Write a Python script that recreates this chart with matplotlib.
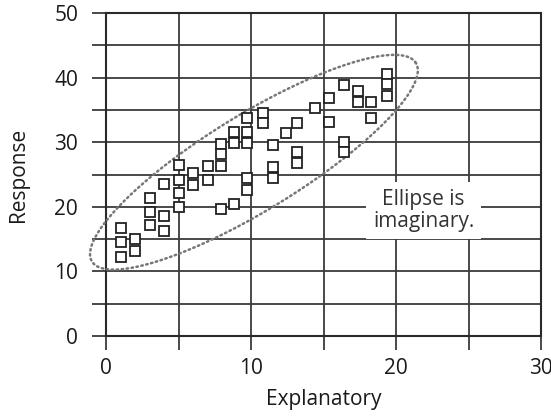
import numpy as np
import matplotlib
matplotlib.use("Agg")
import matplotlib.pyplot as plt

plt.rcParams['font.family'] = ['Open Sans', 'DejaVu Sans']

# Scatter data
explanatory = [1.0, 1.0, 1.0,
               2.0, 2.0,
               3.0, 3.0, 3.0,
               4.0, 4.0, 4.0,
               5.0, 5.0, 5.0, 5.0,
               6.0, 6.0,
               7.0, 7.0,
               7.9, 7.9, 7.9, 7.9,
               8.8, 8.8, 8.8,
               9.7, 9.7, 9.7, 9.7, 9.7,
               10.8, 10.8,
               11.5, 11.5, 11.5,
               12.4,
               13.2, 13.2, 13.2,
               14.4,
               15.4, 15.4,
               16.4, 16.4, 16.4,
               17.4, 17.4,
               18.3, 18.3,
               19.4, 19.4, 19.4]
response = [16.7, 14.5, 12.3,
            15.0, 13.2,
            21.4, 19.2, 17.2,
            23.5, 18.6, 16.3,
            26.5, 24.1, 22.1, 20.0,
            25.2, 23.4,
            26.3, 24.1,
            29.7, 28.2, 26.3, 19.7,
            31.6, 29.9, 20.4,
            33.7, 31.6, 29.9, 24.5, 22.6,
            34.5, 33.0,
            29.6, 26.2, 24.5,
            31.4,
            33.0, 28.5, 26.8,
            35.3,
            36.8, 33.1,
            38.9, 30.0, 28.5,
            37.9, 36.2,
            36.2, 33.7,
            40.6, 39.0, 37.2]

x_ticks = [0, 10, 20, 30]
y_ticks = [0, 10, 20, 30, 40, 50]

# imaginary ellipse: centre and two conjugate half-axes (data units)
ell_center = (10.2, 26.9)
ell_u = (11.17, 15.37)
ell_v = (-1.73, 6.33)

fig = plt.figure(figsize=(5.51, 4.17), dpi=100)
ax = fig.add_axes([0.1924, 0.1942, 0.7895, 0.7746])

ax.set_xlim(0, 30)
ax.set_ylim(0, 50)
ax.set_xticks(np.arange(0, 31, 5))
ax.set_xticklabels([str(v) if v in x_ticks else '' for v in range(0, 31, 5)])
ax.set_yticks(np.arange(0, 51, 5))
ax.set_yticklabels([str(v) if v in y_ticks else '' for v in range(0, 51, 5)])

ax.grid(True, color='#3a3a3a', linewidth=1.3)
ax.set_axisbelow(True)
for s in ax.spines.values():
    s.set_color('#2a2a2a')
    s.set_linewidth(1.5)
ax.tick_params(direction='out', length=10, width=1.2, color='#2a2a2a',
               labelsize=15, labelcolor='#1a1a1a')
ax.tick_params(axis='x', pad=6)
ax.tick_params(axis='y', pad=10)

t = np.linspace(0, 2 * np.pi, 400)
ex = ell_center[0] + ell_u[0] * np.cos(t) + ell_v[0] * np.sin(t)
ey = ell_center[1] + ell_u[1] * np.cos(t) + ell_v[1] * np.sin(t)
ax.plot(ex, ey, color='#777777', linewidth=1.8, linestyle=(0, (0.6, 1.4)),
        dash_capstyle='round', zorder=3, clip_on=False)

ax.plot(explanatory, response, linestyle='none', marker='s', markersize=7.5,
        markerfacecolor='white', markeredgecolor='#222222',
        markeredgewidth=1.3, zorder=4)

ax.text(21.9, 19.4, 'Ellipse is\nimaginary.', ha='center', va='center',
        fontsize=15, color='#333333', linespacing=1.1,
        bbox=dict(facecolor='white', edgecolor='none', pad=5), zorder=5)

ax.set_xlabel('Explanatory', fontsize=15, color='#1a1a1a', labelpad=7)
ax.set_ylabel('Response', fontsize=15, color='#1a1a1a', labelpad=18)

fig.savefig('out.png', dpi=100)
